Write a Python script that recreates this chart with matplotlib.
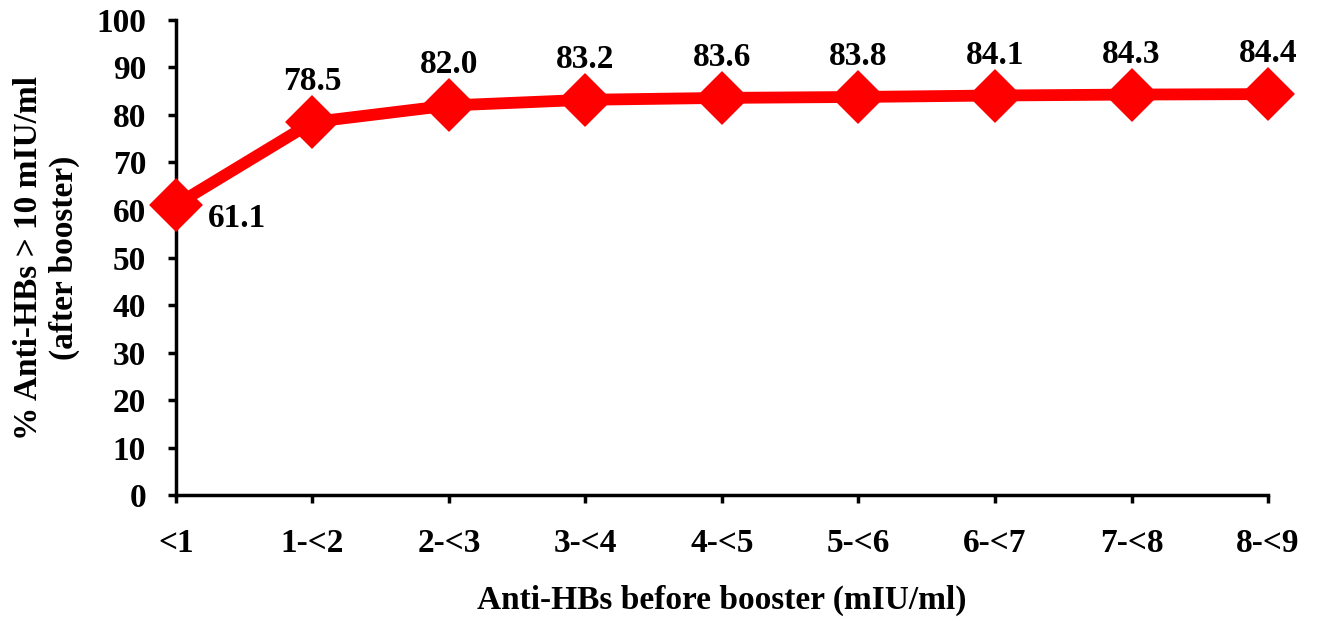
import matplotlib.pyplot as plt

# Data
categories = ['<1', '1-<2', '2-<3', '3-<4', '4-<5', '5-<6', '6-<7', '7-<8', '8-<9']
values = [61.1, 78.5, 82.0, 83.2, 83.6, 83.8, 84.1, 84.3, 84.4]
yticks = list(range(0, 101, 10))

plt.rcParams['font.family'] = ['Liberation Serif', 'DejaVu Serif']
plt.rcParams['font.weight'] = 'bold'

fig = plt.figure(figsize=(13.17, 6.17), dpi=100)
ax = fig.add_axes([0.1336, 0.1977, 0.8292, 0.7699])

x = list(range(len(categories)))
ax.plot(x, values, color='#ff0000', linewidth=8.5, marker='D', markersize=24,
        markeredgewidth=3, markeredgecolor='#ff0000', solid_joinstyle='round',
        clip_on=False, zorder=3)

# value labels: first one below-right, others above
for i, v in enumerate(values):
    if i == 0:
        ax.annotate(f'{v:.1f}', (i, v), xytext=(23, -10), textcoords='offset points',
                    ha='left', va='center', fontsize=24, fontweight='bold')
    else:
        ax.annotate(f'{v:.1f}', (i, v), xytext=(0, 18), textcoords='offset points',
                    ha='center', va='bottom', fontsize=24, fontweight='bold')

ax.set_xlim(0, len(categories) - 1)
ax.set_ylim(0, 100)
ax.set_xticks(x)
ax.set_xticklabels(categories)
ax.set_yticks(yticks)

for s in ['top', 'right']:
    ax.spines[s].set_visible(False)
for s in ['left', 'bottom']:
    ax.spines[s].set_linewidth(2.5)

ax.tick_params(axis='both', direction='out', length=6, width=2.5, labelsize=24)
ax.tick_params(axis='x', pad=18)
ax.tick_params(axis='y', pad=15.5)

ax.set_xlabel('Anti-HBs before booster (mIU/ml)', fontsize=24, fontweight='bold', labelpad=18)
ax.set_ylabel('% Anti-HBs > 10 mIU/ml\n(after booster)', fontsize=24, fontweight='bold', labelpad=12)

fig.savefig('out.png', dpi=100)
